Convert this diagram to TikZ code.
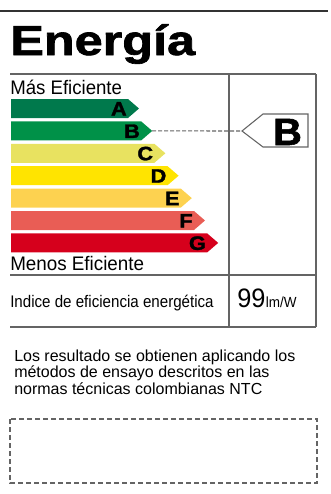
\documentclass[tikz,border=0pt]{standalone}
\usepackage{fontspec}
\setmainfont{Liberation Sans}
\newfontface\gruesa[FakeBold=1.5]{Liberation Sans Bold}
\usetikzlibrary{positioning}

\definecolor{claseA}{RGB}{0,121,76}
\definecolor{claseB}{RGB}{0,145,72}
\definecolor{claseC}{RGB}{232,226,96}
\definecolor{claseD}{RGB}{255,228,0}
\definecolor{claseE}{RGB}{253,210,80}
\definecolor{claseF}{RGB}{233,93,85}
\definecolor{claseG}{RGB}{214,0,28}
\definecolor{gris}{RGB}{100,100,100}

\begin{document}
\begin{tikzpicture}[x=0.75pt,y=-0.75pt,
  linea/.style={draw=gris,line width=0.8pt},
  texto/.style={inner sep=0pt,anchor=base west},
  letra/.style={inner sep=0pt,anchor=base east,font=\fontsize{14.6}{15}\selectfont\gruesa}]
\useasboundingbox (0,0) rectangle (331,494);

% encabezado
\draw[black!80,line width=1.5pt] (0,11) -- (328,11);
\node[texto,font=\fontsize{31.5}{32}\selectfont\gruesa] (titulo) at (10,55) {\scalebox{1.2}[1]{Energía}};

% marco
\draw[linea] (10,74) -- (316,74)
             (10,275) -- (316,275)
             (10,327) -- (316,327)
             (229,74) -- (229,327)
             (316,74) -- (316,327);

\node[texto,font=\fontsize{14.7}{15}\selectfont] (mas) at (10,94) {\scalebox{0.95}[1]{Más Eficiente}};
\node[texto,font=\fontsize{14.7}{15}\selectfont] (menos) at (10,270) {\scalebox{0.96}[1]{Menos Eficiente}};

% barras de clase
\foreach \l [count=\i from 0] in {A,B,C,D,E,F,G}{
  \pgfmathsetmacro\y{99+22.4*\i}
  \pgfmathsetmacro\xt{139+13.2*\i}
  \fill[clase\l] (11,\y) -- (\xt-11,\y) -- (\xt,\y+9.5) -- (\xt-11,\y+19) -- (11,\y+19) -- cycle;
  \node[letra] (letra\l) at (\xt-12,\y+16.5) {\scalebox{1.12}[1]{\l}};
  \coordinate (punta\l) at (\xt,\y+9.5);
}

% indicador
\coordinate (flecha) at (242,131);
\draw[linea,fill=white] (flecha) -- (263,114) -- (308,114) -- (308,147) -- (263,147) -- cycle;
\node[inner sep=0pt,anchor=base,font=\fontsize{28.5}{29}\selectfont\gruesa] (clase) at (287.5,145) {\scalebox{1.05}[1]{B}};
\draw[gris,line width=0.8pt,dash pattern=on 3pt off 1.5pt] (puntaB) -- (flecha);

% indice
\node[texto,font=\fontsize{12.6}{13}\selectfont] (indice) at (10,307) {\scalebox{0.9}[1]{Indice de eficiencia energética}};
\node[texto,font=\fontsize{20}{20}\selectfont] (valor) at (237,307) {\scalebox{0.95}[1]{99}};
\node[texto,font=\fontsize{11}{11}\selectfont] (unidad) at (valor.base east) {\scalebox{0.92}[1]{lm/W}};

% nota
\node[texto,font=\fontsize{12}{13}\selectfont] (nota1) at (14,361) {Los resultado se obtienen aplicando los};
\node[texto,font=\fontsize{12}{13}\selectfont] (nota2) at (14,377.5) {métodos de ensayo descritos en las};
\node[texto,font=\fontsize{12}{13}\selectfont] (nota3) at (14,394) {normas técnicas colombianas NTC};

% recuadro
\draw[gris,line width=0.8pt,dash pattern=on 3.5pt off 2.5pt] (10,419) rectangle (317,483);
\end{tikzpicture}
\end{document}
